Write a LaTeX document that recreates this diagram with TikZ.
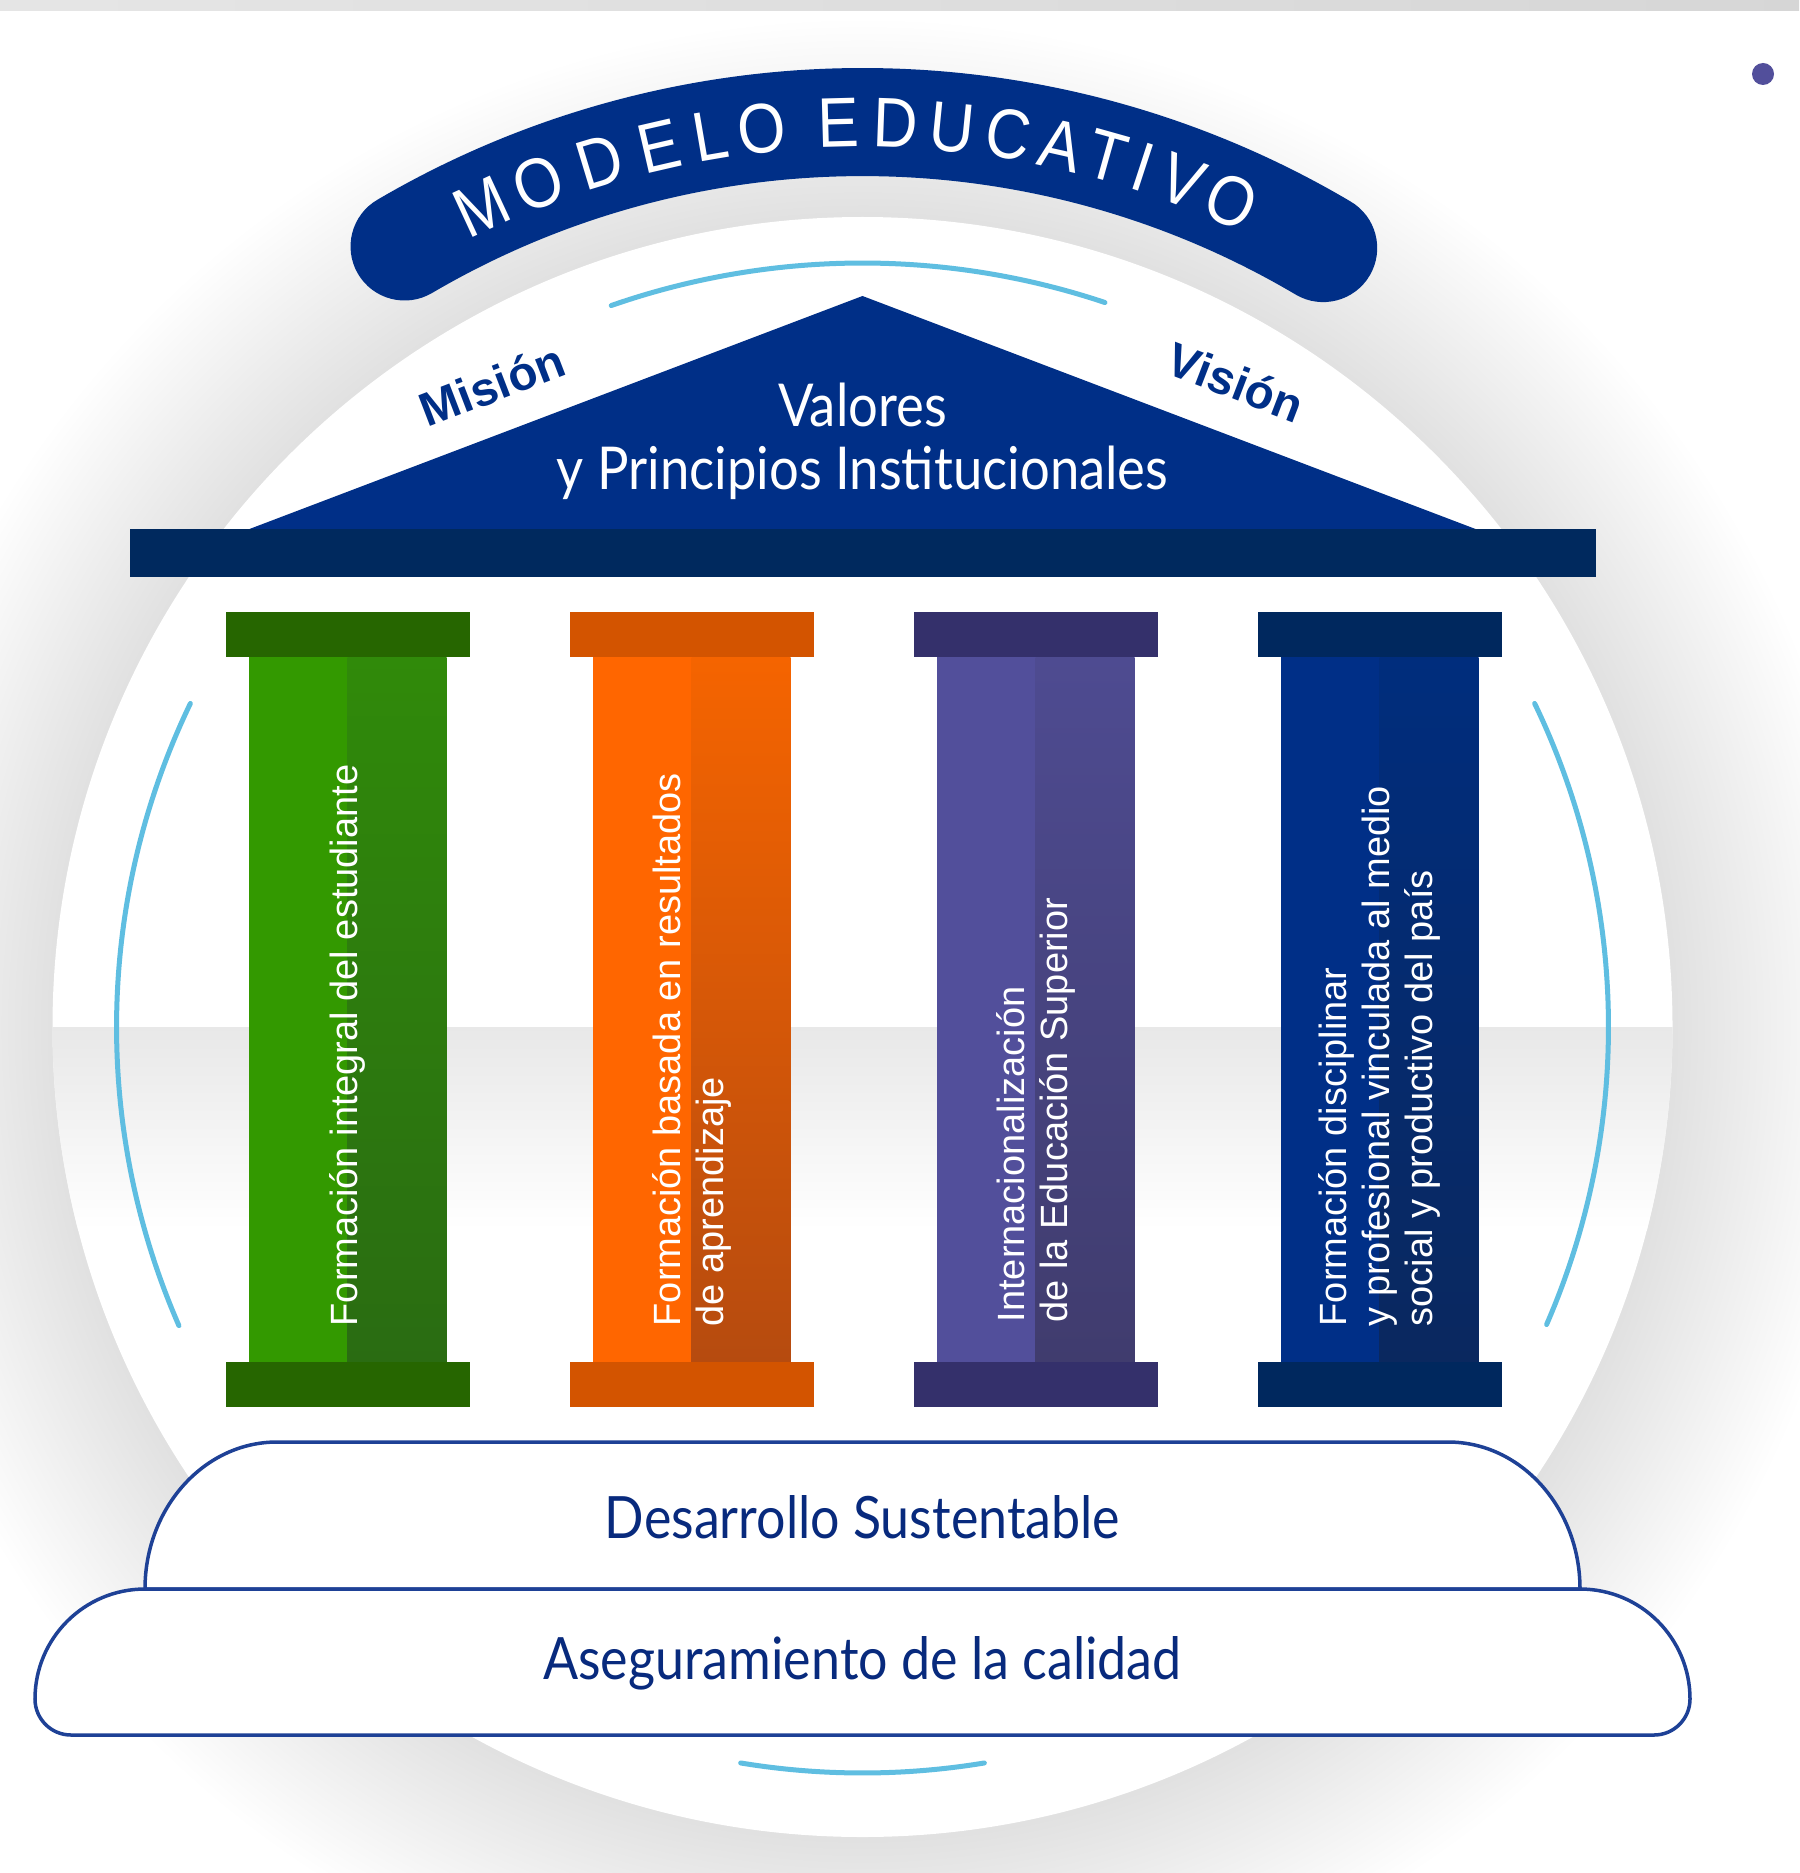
\documentclass[tikz,border=0pt]{standalone}
\usepackage{fontspec}
\setmainfont{Liberation Sans}
\newfontfamily\robofont[FakeStretch=0.89]{Lato}
\newfontfamily\archfont[FakeStretch=0.88]{Liberation Sans}
\usetikzlibrary{positioning}

\definecolor{roofblue}{RGB}{0,47,135}
\definecolor{barnavy}{RGB}{0,41,94}
\definecolor{arcblue}{RGB}{95,190,225}
\definecolor{labelblue}{RGB}{8,42,125}
\definecolor{edgeblue}{RGB}{30,65,150}
\definecolor{dotpurple}{RGB}{82,79,155}
\definecolor{greenA}{RGB}{51,153,0}
\definecolor{greenB}{RGB}{48,138,10}
\definecolor{greenC}{RGB}{42,108,18}
\definecolor{greenCap}{RGB}{38,102,0}
\definecolor{orangeA}{RGB}{255,102,0}
\definecolor{orangeB}{RGB}{245,100,0}
\definecolor{orangeC}{RGB}{182,75,15}
\definecolor{orangeCap}{RGB}{211,84,0}
\definecolor{purpleA}{RGB}{82,79,155}
\definecolor{purpleB}{RGB}{78,75,145}
\definecolor{purpleC}{RGB}{64,60,110}
\definecolor{purpleCap}{RGB}{52,48,107}
\definecolor{navyA}{RGB}{0,47,135}
\definecolor{navyB}{RGB}{0,45,125}
\definecolor{navyC}{RGB}{10,40,95}
\definecolor{navyCap}{RGB}{0,40,94}

\pgfdeclareradialshading{circshadow}{\pgfpoint{0bp}{0bp}}{color(0bp)=(black!12); color(20bp)=(black!12); color(25bp)=(white); color(50bp)=(white)}

\begin{document}
\begin{tikzpicture}[x=0.01cm, y=0.01cm,
    pillartext/.style={rotate=90, anchor=west, align=left, inner sep=0pt, text=white,
        font=\fontsize{10.8}{12.2}\selectfont},
    archletter/.style={anchor=base, inner sep=0pt, text=white,
        font=\archfont\fontsize{20}{20}\selectfont},
    rooftext/.style={anchor=base, inner sep=0pt, text=white, font=\robofont\fontsize{16.8}{16.8}\selectfont},
    baselabel/.style={inner sep=0pt, text=labelblue, font=\robofont\fontsize{16.6}{16.6}\selectfont},
    sidelabel/.style={inner sep=0pt, text=roofblue, font=\bfseries\fontsize{13.5}{13.5}\selectfont},
    thinarc/.style={draw=arcblue, line width=0.05cm, line cap=round},
    platform/.style={draw=edgeblue, fill=white, line width=0.035cm}]

    \useasboundingbox (0,0) rectangle (1799,-1873);
    \fill[white] (0,0) rectangle (1799,-1873);
    \shade[left color=black!10, right color=black!16] (0,0) rectangle (1799,-11);

    % circle and its shadow
    \shade[shading=circshadow] (862.5,-1027) circle (1010);
    \fill[white] (862.5,-1027) circle (810);
    \begin{scope}
        \clip (862.5,-1027) circle (810);
        \shade[top color=black!9, bottom color=white] (0,-1027) rectangle (1799,-1230);
    \end{scope}

    % light blue arcs
    \draw[thinarc] (862.5,-1027) ++(109.2:764) arc[start angle=109.2, end angle=71.5, radius=764];
    \draw[thinarc] (862.5,-1027) ++(154.3:746) arc[start angle=154.3, end angle=203.6, radius=746];
    \draw[thinarc] (862.5,-1027) ++(25.7:746) arc[start angle=25.7, end angle=-23.5, radius=746];
    \draw[thinarc] (862.5,-1027) ++(260.6:746) arc[start angle=260.6, end angle=279.4, radius=746];

    % title band
    \draw[roofblue, line width=1.08cm, line cap=round] (862.5,-1027) ++(120.4:905)
        arc[start angle=120.4, end angle=59.4, radius=905];
    \begin{scope}[shift={(862.5,-1027)}]
        \node[archletter, rotate=24.9] (m1) at (114.9:880) {M};
        \node[archletter, rotate=21.0] (m2) at (111.0:880) {O};
        \node[archletter, rotate=16.9] (m3) at (106.9:880) {D};
        \node[archletter, rotate=13.0] (m4) at (103.0:880) {E};
        \node[archletter, rotate=9.7] (m5) at (99.7:880) {L};
        \node[archletter, rotate=6.4] (m6) at (96.4:880) {O};
        \node[archletter, rotate=1.5] (m7) at (91.5:880) {E};
        \node[archletter, rotate=-2.1] (m8) at (87.9:880) {D};
        \node[archletter, rotate=-5.7] (m9) at (84.3:880) {U};
        \node[archletter, rotate=-9.3] (m10) at (80.7:880) {C};
        \node[archletter, rotate=-12.7] (m11) at (77.3:880) {A};
        \node[archletter, rotate=-15.7] (m12) at (74.3:880) {T};
        \node[archletter, rotate=-18.1] (m13) at (71.9:880) {I};
        \node[archletter, rotate=-20.7] (m14) at (69.3:880) {V};
        \node[archletter, rotate=-24.1] (m15) at (65.9:880) {O};
    \end{scope}

    % roof
    \fill[roofblue] (249.5,-529) -- (862.5,-296) -- (1475.5,-529) -- cycle;
    \fill[barnavy] (129.5,-529) rectangle (1595.5,-577);
    \node[rooftext] (valores) at (862.5,-426) {Valores};
    \node[rooftext] (principios) at (862.5,-489) {y Principios Institucionales};
    \node[sidelabel, rotate=21] (mision) at (492,-385) {Misión};
    \node[sidelabel, rotate=-21] (vision) at (1236,-382) {Visión};

    % pillars
    \fill[greenCap] (225.5,-611.5) rectangle (469.5,-657);
    \fill[greenA] (248.5,-657) rectangle (347.5,-1362);
    \shade[top color=greenB, bottom color=greenC] (347.5,-657) rectangle (446.5,-1362);
    \fill[greenCap] (225.5,-1362) rectangle (469.5,-1407);

    \fill[orangeCap] (569.5,-611.5) rectangle (813.5,-657);
    \fill[orangeA] (592.5,-657) rectangle (691.5,-1362);
    \shade[top color=orangeB, bottom color=orangeC] (691.5,-657) rectangle (790.5,-1362);
    \fill[orangeCap] (569.5,-1362) rectangle (813.5,-1407);

    \fill[purpleCap] (913.5,-611.5) rectangle (1157.5,-657);
    \fill[purpleA] (936.5,-657) rectangle (1035.5,-1362);
    \shade[top color=purpleB, bottom color=purpleC] (1035.5,-657) rectangle (1134.5,-1362);
    \fill[purpleCap] (913.5,-1362) rectangle (1157.5,-1407);

    \fill[navyCap] (1257.5,-611.5) rectangle (1501.5,-657);
    \fill[navyA] (1280.5,-657) rectangle (1379.5,-1362);
    \shade[top color=navyB, bottom color=navyC] (1379.5,-657) rectangle (1478.5,-1362);
    \fill[navyCap] (1257.5,-1362) rectangle (1501.5,-1407);

    \node[pillartext] (pilar1) at (347.5,-1327) {Formación integral del estudiante};
    \node[pillartext] (pilar2) at (691.5,-1327) {Formación basada en resultados\\de aprendizaje};
    \node[pillartext] (pilar3) at (1035.5,-1323) {Internacionalización\\de la Educación Superior};
    \node[pillartext] (pilar4) at (1379.5,-1327) {Formación disciplinar\\y profesional vinculada al medio\\social y productivo del país};

    % base platforms
    \draw[platform] (145,-1589) arc[start angle=180, end angle=90, x radius=132, y radius=147]
        -- (1448,-1442) arc[start angle=90, end angle=0, x radius=132, y radius=147] -- cycle;
    \draw[platform] (145,-1589) -- (1580,-1589) arc[start angle=90, end angle=0, radius=110]
        arc[start angle=0, end angle=-90, radius=36] -- (71,-1735)
        arc[start angle=270, end angle=180, radius=36] arc[start angle=180, end angle=90, radius=110] -- cycle;
    \node[baselabel] (desarrollo) at (862.5,-1517) {Desarrollo Sustentable};
    \node[baselabel] (calidad) at (862.5,-1663) {Aseguramiento de la calidad};

    \fill[dotpurple] (1763,-74) circle (11);
\end{tikzpicture}
\end{document}
